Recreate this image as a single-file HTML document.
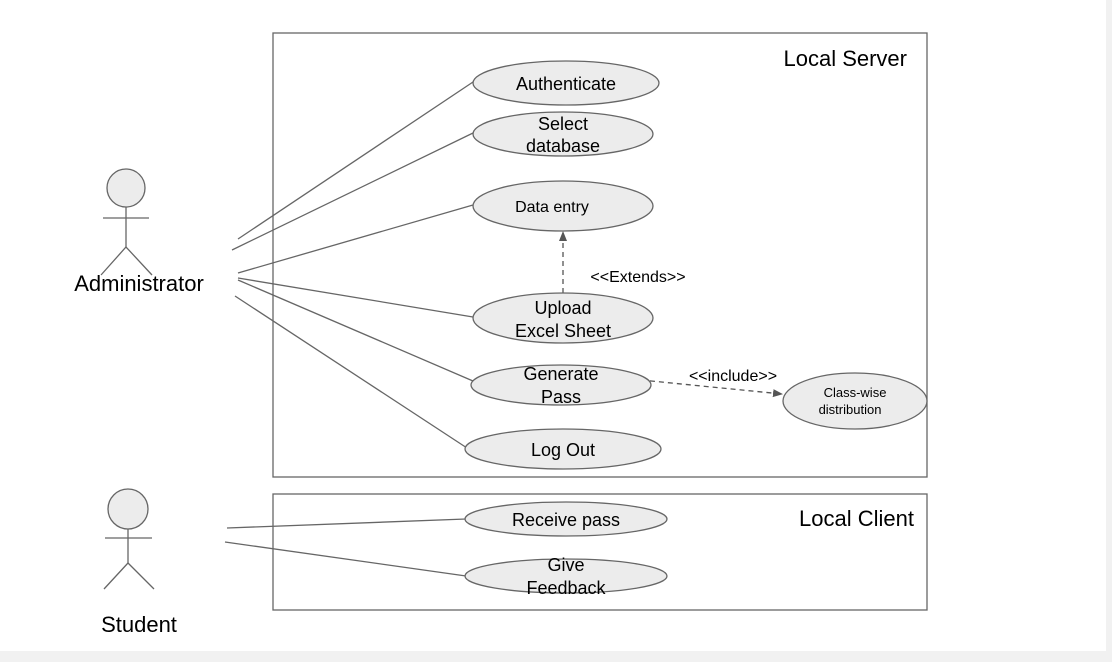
<!DOCTYPE html>
<html><head><style>body{margin:0;background:#fff}svg{display:block}text{font-family:"Liberation Sans",Arial,sans-serif;fill:#000}</style></head><body>
<svg width="1112" height="662" viewBox="0 0 1112 662" xmlns="http://www.w3.org/2000/svg">
<rect x="0" y="651" width="1112" height="11" fill="#f1f1f1"/>
<rect x="1106" y="0" width="6" height="662" fill="#f1f1f1"/>
<defs><marker id="a" markerWidth="10" markerHeight="10" refX="9" refY="5" orient="auto" markerUnits="userSpaceOnUse"><path d="M0,1 L10,5 L0,9 Z" fill="#555"/></marker></defs>
<g fill="none" stroke="#666" stroke-width="1.3">
<rect x="273" y="33" width="654" height="444"/>
<rect x="273" y="494" width="654" height="116"/>
<line x1="238" y1="239" x2="473" y2="82"/>
<line x1="232" y1="250" x2="473" y2="133"/>
<line x1="238" y1="273" x2="473" y2="205"/>
<line x1="238" y1="278" x2="473" y2="317"/>
<line x1="238" y1="280" x2="473" y2="381"/>
<line x1="235" y1="296" x2="467" y2="448"/>
<line x1="227" y1="528" x2="466" y2="519"/>
<line x1="225" y1="542" x2="466" y2="576"/>
<line x1="126" y1="207" x2="126" y2="247"/><line x1="103" y1="218" x2="149" y2="218"/>
<polyline points="101,275 126,247 152,275"/>
<line x1="128" y1="529" x2="128" y2="563"/><line x1="105" y1="538" x2="152" y2="538"/>
<polyline points="104,589 128,563 154,589"/>
</g>
<g stroke="#555" stroke-width="1.3" stroke-dasharray="5,4" fill="none">
<line x1="563" y1="293" x2="563" y2="232" marker-end="url(#a)"/>
<line x1="641" y1="380" x2="782" y2="394" marker-end="url(#a)"/>
</g>
<g fill="#ececec" stroke="#666" stroke-width="1.3">
<circle cx="126" cy="188" r="19"/>
<circle cx="128" cy="509" r="20"/>
<ellipse cx="566" cy="83" rx="93" ry="22"/>
<ellipse cx="563" cy="134" rx="90" ry="22"/>
<ellipse cx="563" cy="206" rx="90" ry="25"/>
<ellipse cx="563" cy="318" rx="90" ry="25"/>
<ellipse cx="561" cy="385" rx="90" ry="20"/>
<ellipse cx="855" cy="401" rx="72" ry="28"/>
<ellipse cx="563" cy="449" rx="98" ry="20"/>
<ellipse cx="566" cy="519" rx="101" ry="17"/>
<ellipse cx="566" cy="576" rx="101" ry="17"/>
</g>
<g font-size="18" text-anchor="middle">
<text x="566" y="90">Authenticate</text>
<text x="563" y="130">Select</text><text x="563" y="152">database</text>
<text x="552" y="212" font-size="16">Data entry</text>
<text x="563" y="314">Upload</text><text x="563" y="337">Excel Sheet</text>
<text x="561" y="380">Generate</text><text x="561" y="403">Pass</text>
<text x="855" y="397" font-size="13">Class-wise</text><text x="850" y="414" font-size="13">distribution</text>
<text x="563" y="456">Log Out</text>
<text x="566" y="526">Receive pass</text>
<text x="566" y="571">Give</text><text x="566" y="594">Feedback</text>
<text x="638" y="282" font-size="16">&lt;&lt;Extends&gt;&gt;</text>
<text x="733" y="381" font-size="16">&lt;&lt;include&gt;&gt;</text>
<text x="139" y="291" font-size="22">Administrator</text>
<text x="139" y="632" font-size="22">Student</text>
</g>
<text x="907" y="66" font-size="22" text-anchor="end">Local Server</text>
<text x="914" y="526" font-size="22" text-anchor="end">Local Client</text>
</svg>
</body></html>
